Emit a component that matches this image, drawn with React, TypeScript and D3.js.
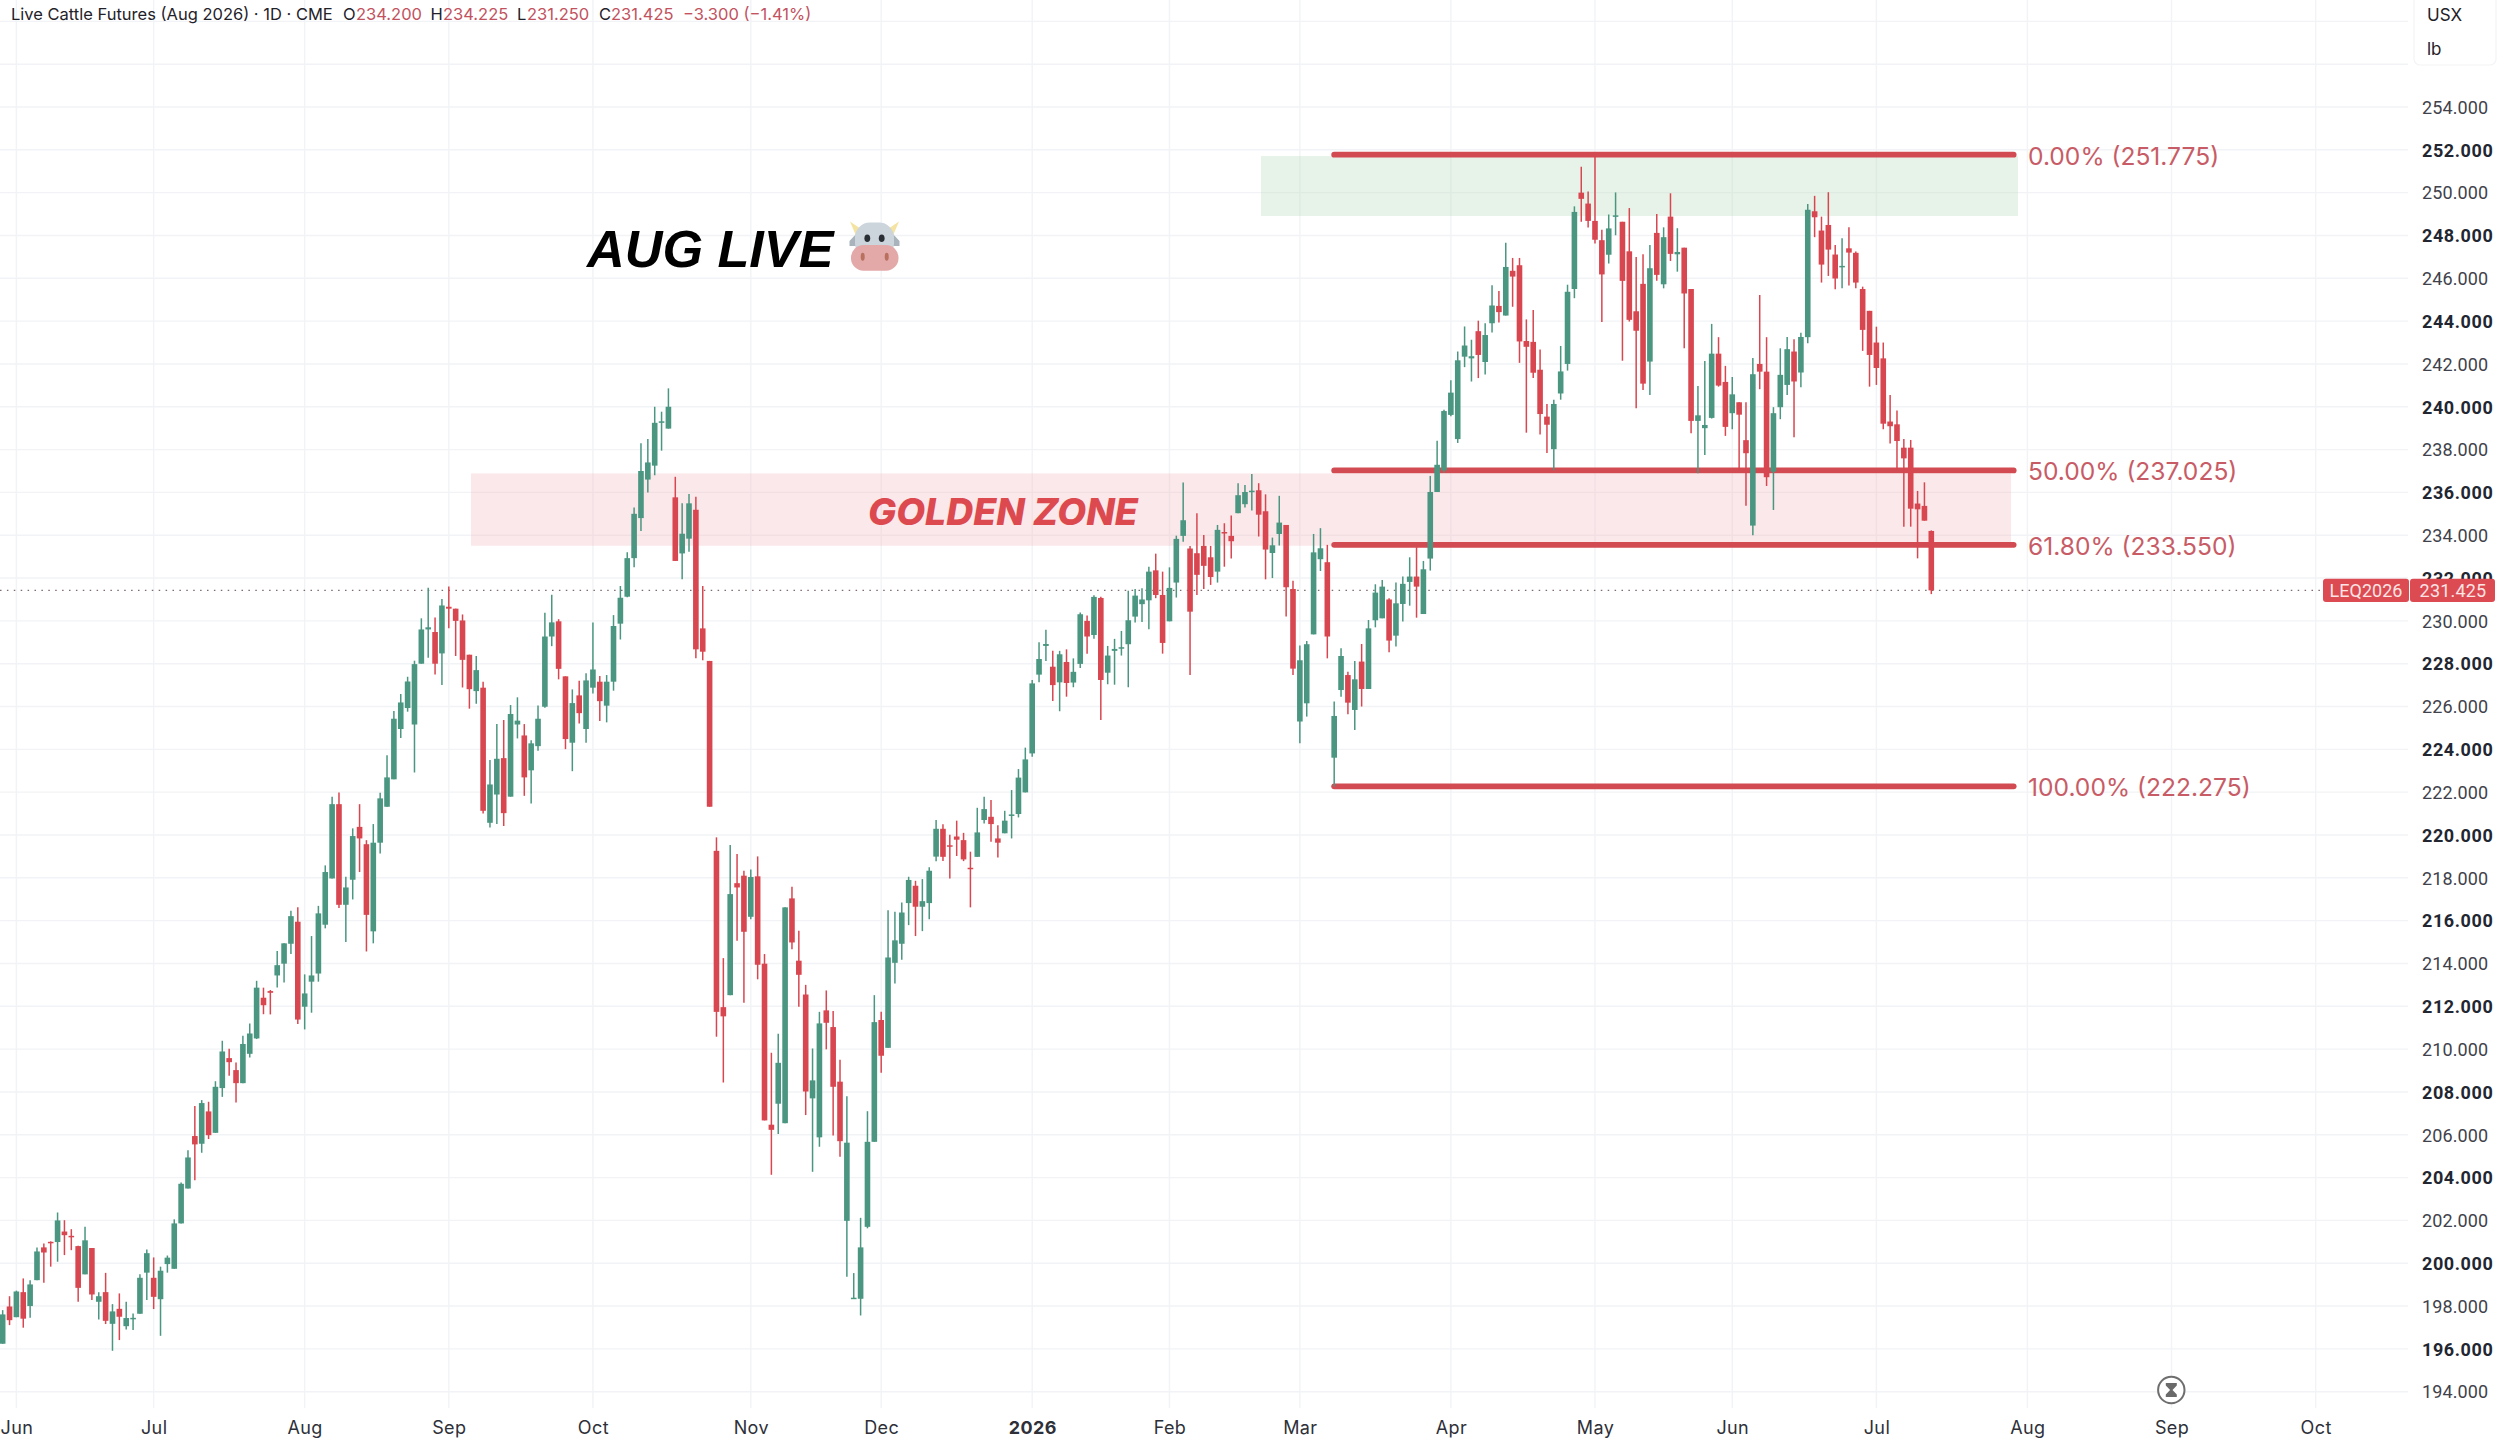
import React, { useEffect, useRef } from 'react';
import * as d3 from 'd3';

// daily bars, ten per row
const opens = [
  196.24,197.98,197.48,198.65,198.0,199.21,200.74,201.0,200.99,201.48,
  201.28,200.8,199.48,200.71,198.2,198.65,197.17,197.87,197.06,197.42,
  197.64,199.56,199.32,198.32,199.96,199.74,201.86,203.49,205.94,205.58,
  207.09,206.09,208.18,209.58,209.02,208.41,209.78,210.5,212.4,212.71,
  213.44,213.99,214.92,215.95,211.98,213.15,213.53,215.81,217.97,221.44,
  216.74,217.91,220.38,219.57,215.5,219.64,221.32,222.6,224.95,225.93,
  225.16,228.0,229.6,229.48,228.48,230.66,230.57,230.02,228.42,226.72,
  226.88,220.57,221.89,223.59,221.79,225.16,224.65,223.02,224.15,225.99,
  229.27,229.98,227.41,224.31,226.52,224.95,226.88,227.16,226.04,227.16,
  229.87,231.13,232.93,234.8,236.6,237.25,239.26,238.98,235.77,233.15,
  233.84,235.19,229.65,228.13,219.26,211.96,212.52,217.75,218.1,216.18,
  218.07,213.99,206.47,207.45,206.54,217.04,214.13,212.55,207.7,205.88,
  211.81,211.03,208.48,201.98,198.34,198.34,201.7,205.67,211.36,210.06,
  214.03,214.92,216.82,217.63,216.65,216.82,218.99,220.29,219.52,219.93,
  219.76,218.47,218.98,220.7,220.85,219.84,220.08,220.93,220.98,221.99,
  223.81,227.49,228.83,227.86,227.13,228.08,227.12,227.99,230.0,229.34,
  231.07,227.58,228.6,228.74,228.91,230.2,230.78,230.96,232.36,231.21,
  229.98,231.79,233.97,233.38,233.16,233.5,232.97,232.3,234.15,233.97,
  235.03,235.45,236.04,236.1,235.12,233.17,234.06,234.48,231.49,225.3,
  226.15,229.37,232.88,232.74,223.61,226.77,227.47,225.84,228.1,226.82,
  230.03,230.12,231.0,229.31,230.79,231.82,232.07,230.32,232.91,236.02,
  237.03,239.62,238.49,242.34,242.26,243.53,242.09,243.9,244.71,244.26,
  246.35,246.61,243.07,243.03,241.73,239.54,238.02,240.62,242.0,245.5,
  250.0,249.49,248.68,247.78,247.1,248.88,248.64,247.26,244.46,245.74,
  242.11,248.12,245.72,248.88,247.12,247.43,245.5,239.34,239.0,239.48,
  242.48,241.16,239.7,240.21,238.44,234.45,242.0,241.64,236.97,239.98,
  241.02,242.58,241.6,243.25,249.13,248.23,248.49,247.11,246.53,247.4,
  247.19,245.5,244.48,243.0,242.26,239.31,239.18,238.09,238.09,235.48,235.37,234.2,
];
const closes = [
  197.61,197.34,198.68,197.41,199.01,200.55,200.5,200.97,202.0,201.31,
  201.22,198.85,201.07,198.54,198.46,197.31,197.75,197.5,197.44,197.45,
  199.32,200.47,198.43,199.65,200.26,201.86,203.71,204.94,205.55,207.48,
  205.98,208.24,209.89,209.39,208.41,210.24,210.73,212.87,212.05,212.63,
  213.92,214.94,216.21,211.38,212.6,213.44,216.34,218.27,221.44,216.74,
  217.55,219.95,219.84,216.27,219.64,221.71,222.69,225.43,226.19,227.17,
  227.98,229.6,229.7,228.0,230.72,230.57,230.0,228.18,226.81,227.7,
  221.13,222.36,223.56,221.02,225.65,225.34,222.69,224.28,225.43,229.27,
  229.93,227.76,224.48,226.16,225.69,227.22,227.73,226.25,227.16,229.76,
  231.08,232.93,235.0,237.0,237.4,239.25,239.32,240.0,232.8,234.07,
  235.49,228.67,228.56,221.32,211.74,211.53,217.24,217.55,215.48,218.04,
  213.94,206.67,206.23,209.36,216.62,214.98,213.47,208.02,208.54,211.2,
  211.23,208.24,205.7,205.63,198.39,200.74,205.67,211.26,209.69,214.28,
  215.08,216.38,217.9,216.65,216.91,218.33,220.29,218.98,219.45,219.78,
  218.86,218.42,220.12,221.21,220.51,219.64,220.67,220.96,222.68,223.53,
  227.08,228.22,228.92,227.0,228.44,227.1,227.62,230.31,229.27,231.12,
  227.24,228.38,228.69,228.77,230.03,231.18,231.0,232.3,231.21,228.97,
  231.54,233.83,234.7,230.43,232.15,232.57,232.05,234.25,234.1,233.72,
  235.87,236.02,236.08,234.96,233.33,233.53,234.59,231.57,227.77,228.16,
  228.91,233.2,233.39,229.27,225.56,228.36,226.18,227.27,226.82,229.65,
  231.32,231.6,229.08,230.82,231.73,232.07,231.6,232.41,236.02,237.29,
  239.8,240.66,242.17,242.86,242.36,242.42,243.35,244.73,244.42,246.53,
  246.08,243.05,242.8,241.59,239.66,239.16,240.13,241.65,245.37,249.1,
  249.71,248.68,247.8,246.18,248.33,248.94,245.88,244.06,243.55,241.08,
  246.47,246.16,247.92,247.14,247.23,245.29,239.34,239.6,239.15,242.48,
  240.99,239.06,240.58,239.63,237.83,241.52,241.64,236.71,239.7,241.49,
  242.69,241.18,243.26,249.2,248.85,246.64,247.34,245.99,246.58,247.2,
  245.8,243.59,242.42,241.81,239.21,239.09,238.4,237.59,235.24,235.21,234.68,231.425,
];
const highs = [
  197.81,198.46,198.72,199.29,199.21,200.74,200.92,201.02,202.37,202.01,
  201.59,200.82,201.7,200.71,198.65,199.55,198.09,198.59,198.2,197.65,
  199.48,200.64,200.27,199.84,200.36,202.05,203.77,205.28,207.34,207.62,
  207.54,208.5,210.39,210.02,209.38,210.62,211.2,213.19,212.87,212.76,
  214.58,214.94,216.46,216.62,213.49,215.28,216.69,218.58,221.79,221.99,
  218.05,220.31,221.44,219.76,220.51,221.97,223.72,225.79,226.58,227.39,
  228.14,230.12,231.55,230.16,231.02,231.6,230.57,230.3,228.42,228.36,
  227.16,223.5,225.18,225.37,226.07,226.43,225.18,224.43,226.05,230.38,
  231.22,230.08,227.41,226.8,227.2,227.55,229.93,227.42,227.47,230.27,
  231.63,233.2,235.3,238.3,238.5,240.0,239.77,240.86,236.73,235.49,
  235.92,235.8,231.63,228.13,219.89,214.25,219.53,219.11,218.33,218.39,
  219.0,214.44,209.83,210.72,216.62,217.58,215.53,213.0,210.03,211.74,
  212.74,211.78,209.5,207.8,199.54,202.12,207.1,212.52,211.74,216.49,
  216.42,216.85,218.05,217.86,217.94,218.49,220.7,220.5,220.01,220.67,
  220.1,219.22,221.27,221.79,221.63,220.46,221.13,222.1,223.08,224.08,
  227.24,229.0,229.58,228.6,228.6,228.67,228.25,230.39,230.25,231.2,
  231.13,228.83,229.16,229.53,231.41,231.49,231.52,232.53,233.14,232.3,
  232.5,233.98,236.46,233.5,235.03,234.01,233.5,234.48,234.56,234.92,
  236.43,236.35,236.86,236.43,235.91,233.89,235.84,234.48,231.87,228.85,
  229.06,234.06,234.33,233.55,226.23,228.72,227.63,228.13,228.92,230.04,
  231.71,231.91,231.06,231.79,232.07,232.97,233.44,232.8,236.77,238.41,
  239.86,241.24,242.58,243.75,243.13,244.02,243.9,245.68,245.41,247.66,
  246.95,246.95,244.08,244.52,242.68,240.13,240.33,242.84,245.7,249.36,
  251.21,250.05,251.71,248.27,248.98,250.01,248.64,249.28,247.0,247.12,
  247.56,249.0,248.38,249.97,248.34,247.43,245.5,240.97,242.14,243.87,
  243.25,241.91,241.39,240.21,240.21,242.28,245.22,243.25,239.98,242.73,
  243.26,243.15,243.46,249.47,249.85,248.88,250.02,247.56,247.87,248.38,
  247.25,245.61,244.48,243.74,243.0,240.55,239.82,238.5,238.45,236.07,236.47,234.225,
];
const lows = [
  196.24,197.11,197.48,196.99,197.45,199.21,199.09,199.84,200.07,200.38,
  200.61,198.2,199.48,198.28,197.37,197.16,195.91,196.41,196.91,196.88,
  197.64,198.28,197.86,196.61,199.56,199.74,201.86,203.49,203.87,205.16,
  205.8,206.09,207.77,208.76,207.51,208.41,209.61,210.47,211.63,211.62,
  212.88,213.11,214.44,211.17,210.92,211.7,213.15,215.64,217.97,216.59,
  215.0,216.99,218.27,214.56,214.94,219.14,221.32,222.6,224.53,225.76,
  222.92,228.0,228.28,227.5,227.0,229.65,228.36,226.89,225.9,226.13,
  221.0,220.35,220.51,220.42,221.79,224.51,221.83,221.47,223.93,225.94,
  228.82,227.27,224.01,222.98,225.21,224.31,226.61,225.32,225.26,226.74,
  229.13,231.1,232.5,234.2,236.0,236.8,237.95,238.98,232.8,231.94,
  233.23,228.25,228.16,221.32,210.58,208.44,212.52,215.06,212.16,216.06,
  213.26,206.67,204.13,206.03,206.54,214.66,211.98,206.92,204.27,205.44,
  209.99,205.97,204.97,199.37,198.34,197.56,201.63,205.67,208.9,210.06,
  213.07,214.17,215.79,215.28,215.51,216.07,218.77,218.78,217.97,219.02,
  218.78,216.62,218.98,220.54,219.69,218.95,220.08,219.84,220.82,221.99,
  223.66,227.13,228.13,226.26,225.78,226.46,226.9,227.8,228.47,229.16,
  225.37,227.04,227.02,228.38,226.9,229.92,229.95,229.61,231.06,228.47,
  229.98,231.09,233.7,227.47,231.21,231.49,231.68,231.79,232.53,232.91,
  235.03,235.29,235.15,233.94,231.94,232.0,233.52,230.2,227.47,224.28,
  225.53,229.37,232.33,228.25,222.27,226.46,225.64,224.9,226.0,226.82,
  229.7,230.12,228.53,228.8,229.97,230.71,230.15,230.32,232.35,236.02,
  236.93,239.56,238.31,241.85,241.18,241.34,241.51,243.47,243.94,244.26,
  244.67,242.05,238.79,241.34,238.71,237.84,237.03,240.33,241.69,245.07,
  248.64,248.37,247.62,243.96,246.69,248.01,242.15,243.98,239.93,240.78,
  240.55,245.88,245.53,246.81,246.31,242.73,238.76,236.89,237.75,239.45,
  240.94,238.64,238.95,237.05,235.38,234.0,240.82,236.3,235.18,239.42,
  240.55,238.58,240.91,242.97,247.92,245.8,246.11,245.49,245.53,245.66,
  245.53,242.61,240.94,241.02,238.95,238.29,237.05,234.4,234.4,232.92,234.68,231.25,
];

// month labels and the bar each one sits on (the last three are past the data)
const monthLabels = ['Jun','Jul','Aug','Sep','Oct','Nov','Dec','2026','Feb','Mar','Apr','May','Jun','Jul','Aug','Sep','Oct'];
const monthBars = [2,22,44,65,86,109,128,150,170,189,211,232,252,273,295,316,337];

const fibPercents = ['0.00%','50.00%','61.80%','100.00%'];
const fibPrices = [251.775,237.025,233.55,222.275];
const lastPrice = 231.425;

const W = 2500;
const H = 1439;
const UP = '#4a9680';
const DOWN = '#d8464f';
const FIB = '#d34b52';
const FIB_TEXT = '#c85c66';
const FONT = 'Inter, "Noto Sans", sans-serif';
const NUM_FONT = 'Roboto, Inter, sans-serif';

const App: React.FC = () => {
  const svgRef = useRef<SVGSVGElement | null>(null);

  useEffect(() => {
    const svg = d3.select(svgRef.current);
    svg.selectAll('*').remove();

    const x = d3.scaleLinear().domain([0, 281]).range([2.67, 1931.3]);
    const y = d3.scaleLinear().domain([194, 254]).range([1391.7, 107]);
    const gridRight = 2408;

    // grid
    const grid = svg.append('g').attr('stroke', '#f1f3f6').attr('stroke-width', 1.4);
    grid.selectAll('.h').data(d3.range(194, 259, 2)).enter().append('line')
      .attr('x1', 0).attr('x2', gridRight)
      .attr('y1', d => y(d)).attr('y2', d => y(d));
    grid.selectAll('.v').data(monthBars).enter().append('line')
      .attr('x1', d => x(d)).attr('x2', d => x(d))
      .attr('y1', 0).attr('y2', 1408);

    // zones
    svg.append('rect')
      .attr('x', 471).attr('width', 2011 - 471)
      .attr('y', y(236.89)).attr('height', y(233.51) - y(236.89))
      .attr('fill', '#f3b4b8').attr('fill-opacity', 0.3);
    svg.append('rect')
      .attr('x', 1261).attr('width', 2018 - 1261)
      .attr('y', y(251.71)).attr('height', y(248.91) - y(251.71))
      .attr('fill', '#b7dcb9').attr('fill-opacity', 0.33);

    // fib lines, under the candles
    svg.append('g').selectAll('line').data(fibPrices).enter().append('line')
      .attr('x1', x(194)).attr('x2', x(293))
      .attr('y1', d => y(d)).attr('y2', d => y(d))
      .attr('stroke', FIB).attr('stroke-width', 5.8).attr('stroke-linecap', 'round');

    // last price dotted line
    svg.append('line')
      .attr('x1', 0).attr('x2', 2323)
      .attr('y1', y(lastPrice)).attr('y2', y(lastPrice))
      .attr('stroke', '#7d6a6c').attr('stroke-width', 1.4)
      .attr('stroke-dasharray', '1.5 5.4');

    // candles
    const candle = svg.append('g').selectAll('g').data(d3.range(opens.length)).enter().append('g');
    const colour = (i: number) => (closes[i] >= opens[i] ? UP : DOWN);
    candle.append('line')
      .attr('x1', i => x(i)).attr('x2', i => x(i))
      .attr('y1', i => y(highs[i])).attr('y2', i => y(lows[i]))
      .attr('stroke', colour).attr('stroke-width', 1.5);
    candle.append('rect')
      .attr('x', i => x(i) - 2.8).attr('width', 5.6)
      .attr('y', i => y(Math.max(opens[i], closes[i])))
      .attr('height', i => Math.max(1.5, Math.abs(y(opens[i]) - y(closes[i]))))
      .attr('fill', colour);

    // fib labels
    svg.append('g').selectAll('text').data(fibPrices).enter().append('text')
      .attr('x', 2028).attr('y', d => y(d) + 10)
      .attr('font-family', FONT).attr('font-size', 24.6).attr('fill', FIB_TEXT)
      .text((d, i) => `${fibPercents[i]} (${d3.format('.3f')(d)})`);

    // price axis
    const yAxis = d3.axisRight(y)
      .tickValues(d3.range(194, 255, 2))
      .tickSize(0).tickPadding(0)
      .tickFormat(d => d3.format('.3f')(d as number));
    const yg = svg.append('g').attr('transform', 'translate(2422,0.5)').call(yAxis);
    yg.select('.domain').remove();
    yg.selectAll('text')
      .attr('font-family', NUM_FONT).attr('font-size', 18)
      .attr('letter-spacing', (d: any) => (d % 4 === 0 ? 0.6 : 0.1))
      .attr('fill', (d: any) => (d % 4 === 0 ? '#222631' : '#3f424b'))
      .attr('font-weight', (d: any) => (d % 4 === 0 ? 700 : 400));

    // month axis
    const xAxis = d3.axisBottom(x)
      .tickValues(monthBars)
      .tickSize(0).tickPadding(0)
      .tickFormat((d, i) => monthLabels[i]);
    const xg = svg.append('g').attr('transform', 'translate(0,1421.5)').call(xAxis);
    xg.select('.domain').remove();
    xg.selectAll('text')
      .attr('font-family', FONT).attr('font-size', 18).attr('letter-spacing', 0.4)
      .attr('fill', '#2e3039')
      .attr('font-weight', (d, i) => (monthLabels[i] === '2026' ? 700 : 400));

    // last price tag
    const tagY = y(lastPrice);
    svg.append('rect').attr('x', 2323).attr('y', tagY - 11.7).attr('width', 86).attr('height', 23.4).attr('rx', 3).attr('fill', '#dc4a52');
    svg.append('rect').attr('x', 2410).attr('y', tagY - 11.7).attr('width', 85).attr('height', 23.4).attr('rx', 3).attr('fill', '#dc4a52');
    const tag = svg.append('g').attr('font-family', NUM_FONT).attr('font-size', 18).attr('fill', '#fde4e5');
    tag.append('text').attr('x', 2366).attr('y', tagY + 6.4).attr('text-anchor', 'middle').text('LEQ2026');
    tag.append('text').attr('x', 2453).attr('y', tagY + 6.4).attr('text-anchor', 'middle').attr('letter-spacing', 0.2).text(d3.format('.3f')(lastPrice));

    // currency and unit box
    svg.append('rect').attr('x', 2414).attr('y', -6).attr('width', 82).attr('height', 71).attr('rx', 6)
      .attr('fill', '#fff').attr('stroke', '#f3f4f6').attr('stroke-width', 1.2);
    const unit = svg.append('g').attr('font-family', FONT).attr('font-size', 17).attr('fill', '#1f2229');
    unit.append('text').attr('x', 2427).attr('y', 21).text('USX');
    unit.append('text').attr('x', 2427).attr('y', 55).text('lb');

    // header
    const head = svg.append('g').attr('font-family', FONT).attr('font-size', 16.5);
    const headLabels: [number, string, string][] = [
      [11, 'Live Cattle Futures (Aug 2026) · 1D · CME', '#1f2229'],
      [343, 'O', '#1f2229'], [356, '234.200', '#c2525e'],
      [430.5, 'H', '#1f2229'], [443, '234.225', '#c2525e'],
      [517, 'L', '#1f2229'], [527, '231.250', '#c2525e'],
      [599, 'C', '#1f2229'], [611, '231.425', '#c2525e'],
      [683, '−3.300 (−1.41%)', '#c2525e'],
    ];
    head.selectAll('text').data(headLabels).enter().append('text')
      .attr('x', d => d[0]).attr('y', 20).attr('fill', d => d[2]).text(d => d[1]);

    // annotations
    svg.append('text').attr('x', 868).attr('y', 525)
      .attr('font-family', FONT).attr('font-size', 37.4).attr('font-weight', 800).attr('font-style', 'italic')
      .attr('fill', '#dc4a50').text('GOLDEN ZONE');
    svg.append('text').attr('x', 587).attr('y', 266.5)
      .attr('font-family', '"Liberation Sans", Arial, sans-serif').attr('font-size', 52.2).attr('font-weight', 700).attr('font-style', 'italic')
      .attr('fill', '#000').text('AUG LIVE');

    // cow face
    const cow = svg.append('g');
    cow.append('path').attr('d', 'M850 221.5 L861 229 L857 238 Z').attr('fill', '#f4e3a1');
    cow.append('path').attr('d', 'M899 221.5 L888 229 L892 238 Z').attr('fill', '#f4e3a1');
    cow.append('path').attr('d', 'M858 232 L849.5 241 L849.5 246 L859 246 Z').attr('fill', '#a9b3bb');
    cow.append('path').attr('d', 'M891 232 L899.5 241 L899.5 246 L890 246 Z').attr('fill', '#a9b3bb');
    cow.append('rect').attr('x', 855).attr('y', 222.5).attr('width', 39).attr('height', 36).attr('rx', 15).attr('fill', '#ccd5dc');
    cow.append('rect').attr('x', 851).attr('y', 245).attr('width', 47.5).attr('height', 25.7).attr('rx', 12.5).attr('fill', '#e3a9a9');
    cow.append('ellipse').attr('cx', 867.3).attr('cy', 238.3).attr('rx', 2.9).attr('ry', 3.8).attr('fill', '#2a2f35');
    cow.append('ellipse').attr('cx', 881.7).attr('cy', 238.3).attr('rx', 2.9).attr('ry', 3.8).attr('fill', '#2a2f35');
    cow.append('ellipse').attr('cx', 862.7).attr('cy', 256.7).attr('rx', 2).attr('ry', 4).attr('fill', '#b8705f');
    cow.append('ellipse').attr('cx', 886.7).attr('cy', 256.7).attr('rx', 2).attr('ry', 4).attr('fill', '#b8705f');

    // hourglass badge
    const glass = svg.append('g').attr('transform', 'translate(2171.3,1390)');
    glass.append('circle').attr('r', 13.2).attr('fill', '#fff').attr('stroke', '#6e6e6e').attr('stroke-width', 2);
    glass.append('path').attr('d', 'M-5.5 -7 H5.5 V-4.5 L1.2 0 L5.5 4.5 V7 H-5.5 V4.5 L-1.2 0 L-5.5 -4.5 Z').attr('fill', '#6a6a6a');
  }, []);

  return (
    <svg
      ref={svgRef}
      width={W}
      height={H}
      viewBox={`0 0 ${W} ${H}`}
      style={{ position: 'absolute', left: 0, top: 0, display: 'block', background: '#fff' }}
    ></svg>
  );
};

export default App;
